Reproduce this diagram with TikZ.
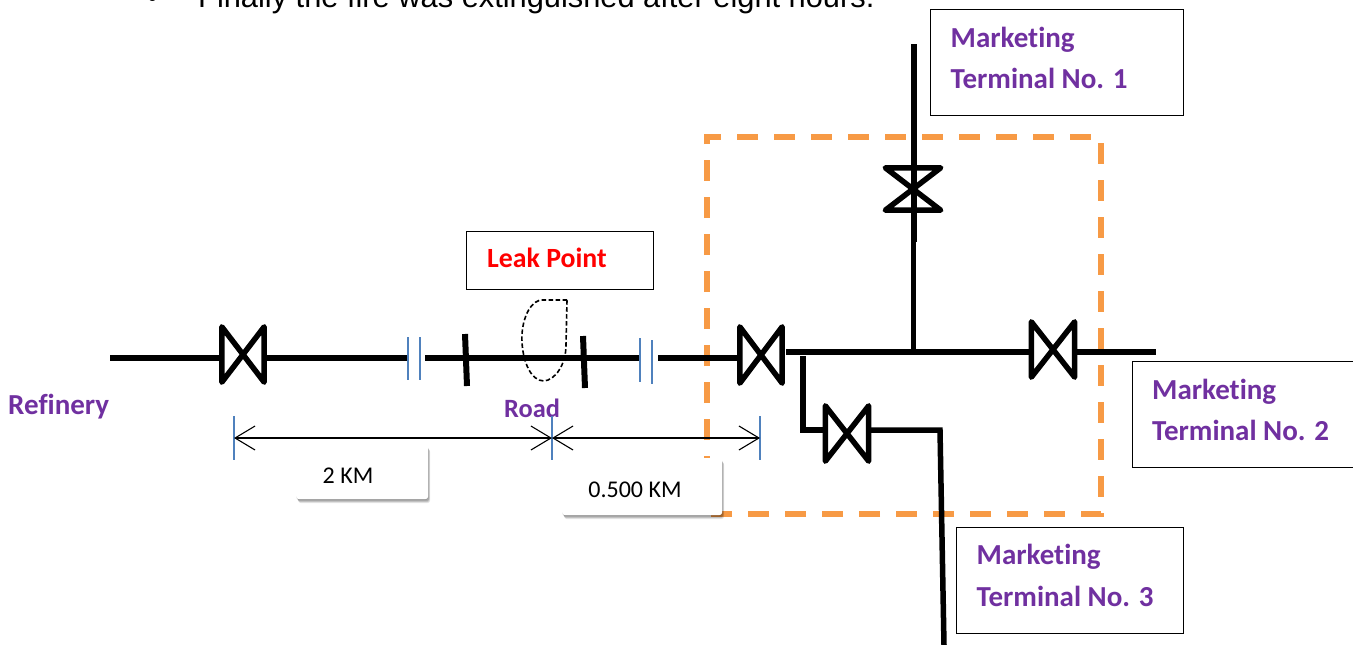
\documentclass[tikz,border=0pt]{standalone}
\usepackage{fontspec}
\setmainfont{Carlito}[Ligatures=NoCommon]
\newfontfamily\arialf{Liberation Sans}
\usetikzlibrary{arrows.meta,shadows}
\definecolor{pur}{HTML}{7030A0}
\definecolor{tick}{HTML}{4F81BD}
\definecolor{org}{HTML}{F79A45}
\tikzset{
  pipe/.style={line width=6pt,draw=black},
  bow/.style={line width=5.5pt,draw=black,line join=round,line cap=round},
  valvebox/.style={rectangle,inner sep=0pt,minimum width=#1},
  cross/.style={line width=6pt,draw=black},
  gapline/.style={line width=1.3pt,draw=tick},
  dimtick/.style={line width=1.1pt,draw=tick},
  dimline/.style={line width=1.1pt,draw=black,{Straight Barb[length=20pt,width=24pt,line width=1.1pt]}-{Straight Barb[length=20pt,width=24pt,line width=1.1pt]}},
  framebox/.style={draw=black,line width=1.6pt,fill=white,inner sep=0pt,anchor=north west},
  term/.style={text=pur,font=\fontsize{29}{29}\selectfont\bfseries,anchor=base west,inner sep=0pt},
  tag/.style={rectangle,rounded corners=3pt,fill=white,inner sep=0pt,anchor=north west,
     drop shadow={shadow xshift=0pt,shadow yshift=-1pt,opacity=.10,fill=black},
     drop shadow={shadow xshift=1pt,shadow yshift=-2pt,opacity=.14,fill=black},
     drop shadow={shadow xshift=1.5pt,shadow yshift=-3pt,opacity=.14,fill=black},
     drop shadow={shadow xshift=2pt,shadow yshift=-4pt,opacity=.10,fill=black}},
  tagtext/.style={font=\fontsize{24}{24}\selectfont,text=black,inner sep=0pt},
  fence/.style={draw=org,line width=5.5pt,dash pattern=on 21pt off 16pt},
}
\begin{document}
\begin{tikzpicture}[x=1pt,y=-1pt]
\useasboundingbox (0,0) rectangle (1353,645);
\clip (0,0) rectangle (1353,645);
% clipped line of body text
\node[anchor=base west,inner sep=0pt,font=\arialf\fontsize{30.8}{30.8}\selectfont] (bul) at (147,8) {•};
\node[anchor=base west,inner sep=0pt,font=\arialf\fontsize{30.8}{30.8}\selectfont] (fin) at (198,8) {Finally the fire was extinguished after eight hours.};
% dashed fence
\draw[fence] (707,514) -- (707,137) -- (1101,137) -- (1101,514) -- cycle;
% valves
\node[valvebox=42pt,minimum height=55pt] (v1) at (243,354.5) {};
\node[valvebox=42pt,minimum height=56pt] (v2) at (761,355) {};
\node[valvebox=43pt,minimum height=55pt] (v3) at (1053,349.5) {};
\node[valvebox=43pt,minimum height=55pt] (v4) at (847,433.5) {};
\node[valvebox=55pt,minimum height=42pt] (v5) at (913,189) {};
\foreach \v in {v1,v2,v3,v4}
  \draw[bow] (\v.north west) -- (\v.south east) -- (\v.north east) -- (\v.south west) -- cycle;
\draw[bow] (v5.north west) -- (v5.north east) -- (v5.south west) -- (v5.south east) -- cycle;
% pipe junctions
\coordinate (a0) at (110,357.5);
\coordinate (a1) at (222,357.5);
\coordinate (a2) at (264,357.5);
\coordinate (a3) at (407,357.5);
\coordinate (b0) at (425,358);
\coordinate (b1) at (640,358);
\coordinate (c0) at (658,358);
\coordinate (c1) at (740,358);
\coordinate (d0) at (786,352);
\coordinate (tee) at (913,352);
\coordinate (d1) at (1032,352);
\coordinate (e0) at (1075,352);
\coordinate (e1) at (1156,352);
\coordinate (t0) at (914,44);
\coordinate (t1) at (914,242);
\coordinate (t2) at (913,205);
\coordinate (f0) at (803,356);
\coordinate (f1) at (803,430);
\coordinate (f2) at (826,430);
\coordinate (g0) at (871,430);
\coordinate (g1) at (940,430);
\coordinate (g2) at (944,645);
\draw[pipe] (a0) -- (a1);
\draw[pipe] (a2) -- (a3);
\draw[pipe] (b0) -- (b1);
\draw[pipe] (c0) -- (c1);
\draw[pipe] (d0) -- (d1);
\draw[pipe] (e0) -- (e1);
\draw[pipe] (t0) -- (t1);
\draw[pipe,line width=5pt] (t2) -- (tee);
\draw[pipe,line join=miter] (f0) -- (f1) -- (f2);
\draw[pipe,line width=5.5pt] (g0) -- (g1) -- (g2);
% road crossing marks
\coordinate (r1a) at (465,334); \coordinate (r1b) at (467,386);
\coordinate (r2a) at (583,336); \coordinate (r2b) at (585,388);
\draw[cross] (r1a) -- (r1b);
\draw[cross] (r2a) -- (r2b);
% pipe gaps
\coordinate (g1a) at (408,337); \coordinate (g1b) at (408,380);
\coordinate (g2a) at (420,337); \coordinate (g2b) at (420,380);
\coordinate (g3a) at (640,338); \coordinate (g3b) at (640,382);
\coordinate (g4a) at (652,340); \coordinate (g4b) at (652,384);
\draw[gapline] (g1a) -- (g1b);
\draw[gapline] (g2a) -- (g2b);
\draw[gapline] (g3a) -- (g3b);
\draw[gapline] (g4a) -- (g4b);
% leak outline
\draw[black,line width=1.6pt,dash pattern=on 4.5pt off 2.5pt]
  (567,300) -- (540,300) .. controls (527,304) and (521,325) .. (522,342)
  .. controls (523,362) and (531,381) .. (544,381)
  .. controls (555,380) and (566,365) .. (566,345) -- cycle;
% labelled boxes
\node[framebox,minimum width=187pt,minimum height=58pt] (leakbox) at (465.5,230.5) {};
\node[inner sep=0pt,text=red,font=\fontsize{27.8}{27.8}\selectfont\bfseries,anchor=base west] (leak) at (487,267) {Leak Point};
\node[framebox,minimum width=253pt,minimum height=106pt] (t1box) at (929.5,8.5) {};
\node[term] (t1a) at (950.5,47) {Marketing};
\node[term] (t1c) at (950.5,88) {Terminal No. 1};
\node[framebox,minimum width=240pt,minimum height=106pt] (t2box) at (1131.5,360.5) {};
\node[term] (t2a) at (1152,399) {Marketing};
\node[term] (t2c) at (1152,440) {Terminal No. 2};
\node[framebox,minimum width=227pt,minimum height=106pt] (t3box) at (955.5,526.5) {};
\node[term] (t3a) at (976.5,564) {Marketing};
\node[term] (t3c) at (976.5,606) {Terminal No. 3};
\node[term] (ref) at (8,414) {Refinery};
\node[term,font=\fontsize{26.4}{26.4}\selectfont\bfseries] (road) at (504,417) {Road};
% dimensions
\coordinate (k1a) at (234,416); \coordinate (k1b) at (234,460);
\coordinate (k2a) at (552,416); \coordinate (k2b) at (552,460);
\coordinate (k3a) at (760,416); \coordinate (k3b) at (760,460);
\coordinate (m1) at (234,438); \coordinate (m2) at (552,438); \coordinate (m3) at (760,438);
\draw[dimtick] (k1a) -- (k1b);
\draw[dimtick] (k2a) -- (k2b);
\draw[dimtick] (k3a) -- (k3b);
\draw[dimline] (m1) -- (m2);
\draw[dimline] (m2) -- (m3);
\node[tag,minimum width=132pt,minimum height=54pt] (tag1) at (296,445) {};
\node[tagtext] (tag1t) at (348,476) {2 KM};
\node[tag,minimum width=160pt,minimum height=57pt] (tag2) at (562,458) {};
\node[tagtext] (tag2t) at (635,490) {0.500 KM};
\end{tikzpicture}
\end{document}
